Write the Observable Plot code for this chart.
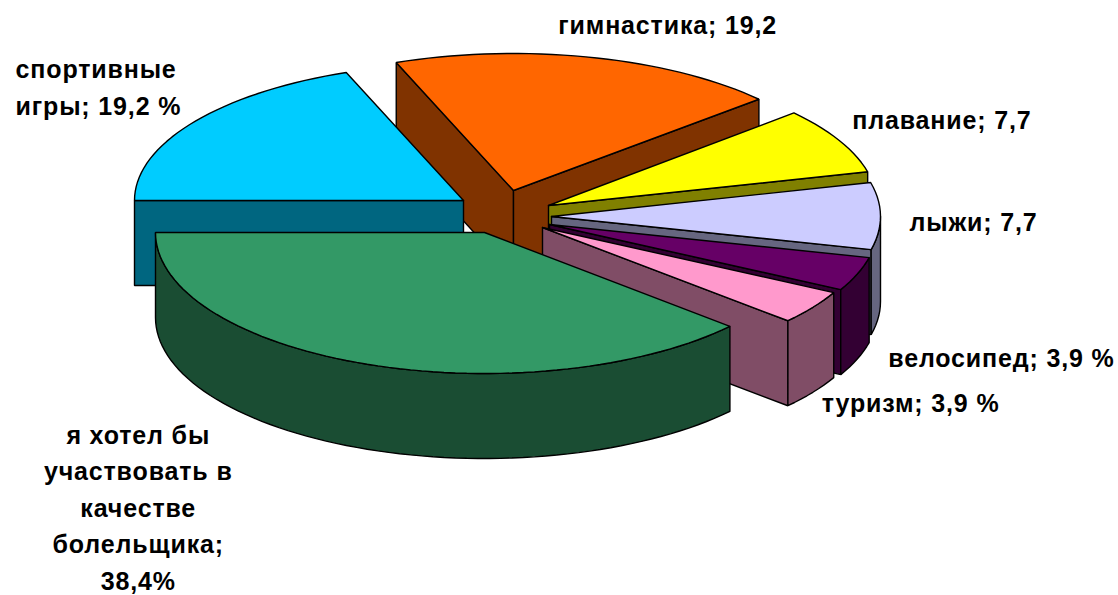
<!DOCTYPE html>
<html><head><meta charset="utf-8">
<script src="https://cdn.jsdelivr.net/npm/d3@7"></script>
<script src="https://cdn.jsdelivr.net/npm/@observablehq/plot@0.6"></script>
<style>html,body{margin:0;padding:0;background:#fff}svg{display:block}svg text{letter-spacing:.85px}</style>
</head><body><div id="chart"></div>
<script>
// Data, in drawing order round the pie (clockwise from the left)
const categories = ["спортивные\nигры; 19,2 %", "гимнастика; 19,2", "плавание; 7,7", "лыжи; 7,7", "велосипед; 3,9 %", "туризм; 3,9 %", "я хотел бы\nучаствовать в\nкачестве\nболельщика;\n38,4%"];
const values = [19.2, 19.2, 7.7, 7.7, 3.9, 3.9, 38.4];
const topColors = ["#00CCFF", "#FF6600", "#FFFF00", "#CCCCFF", "#660066", "#FF99CC", "#339966"];
const wallColors = ["#006680", "#803300", "#808000", "#666680", "#330033", "#804D66", "#1A4D33"];

// Layout of the exploded pie
const startAngle = 180, rx = 329, depth = 85;
const radiusY = [137, 137, 139, 140, 140, 140, 141];
const apexX = [463, 513, 548, 551, 549, 542, 484];
const apexY = [200, 190, 205, 216, 224, 227, 232];
const labelDx = [-177, -33, 13, 29, 31, 9, -229];
const labelDy = [-38, -35, -23, 3, 81, 93, 141];
const labelAnchor = ["start", "start", "start", "start", "start", "start", "middle"];
const paintOrder = [1, 2, 3, 4, 5, 0, 6];

const rad = Math.PI / 180;
let acc = startAngle;
const slices = values.map((v, i) => {
  const a0 = acc; acc += v * 3.6;
  return {i, a0, a1: acc, cx: apexX[i], cy: apexY[i], ry: radiusY[i]};
});
const rim = (s, t, dz = 0) => ({x: s.cx + rx * Math.cos(t * rad), y: s.cy + s.ry * Math.sin(t * rad) + dz});
const arc = (s, a, b, dz = 0) => {
  const n = Math.max(2, Math.ceil((b - a) / 2));
  return d3.range(n + 1).map(k => rim(s, a + (b - a) * k / n, dz));
};
const poly = (points, fill) => Plot.line([...points, points[0]], {x: "x", y: "y", fill, stroke: "#000", strokeWidth: 1.4, strokeLinejoin: "miter"});

const marks = [];
for (const idx of paintOrder) {
  const s = slices[idx], apex = {x: s.cx, y: s.cy}, wall = wallColors[idx];
  const cut = (t) => {
    const p = rim(s, t);
    return [apex, p, {x: p.x, y: p.y + depth}, {x: apex.x, y: apex.y + depth}];
  };
  // cut faces that turn towards the viewer
  if (Math.cos(s.a0 * rad) < 0) marks.push(poly(cut(s.a0), wall));
  if (Math.cos(s.a1 * rad) > 0) marks.push(poly(cut(s.a1), wall));
  // outer wall, front half of the ellipse only
  for (const [lo, hi] of [[0, 180], [360, 540]]) {
    const a = Math.max(s.a0, lo), b = Math.min(s.a1, hi);
    if (b > a) marks.push(poly([...arc(s, a, b), ...arc(s, a, b, depth).reverse()], wall));
  }
  // top face
  marks.push(poly([apex, ...arc(s, s.a0, s.a1)], topColors[idx]));
}
slices.forEach((s, i) => {
  const mid = rim(s, (s.a0 + s.a1) / 2);
  marks.push(Plot.text([categories[i]], {
    x: () => mid.x + labelDx[i], y: () => mid.y + labelDy[i], text: d => d,
    textAnchor: labelAnchor[i], lineHeight: 1.46,
    fontFamily: "Liberation Sans, Arial, sans-serif", fontWeight: "bold", fontSize: 25, fill: "#000"
  }));
});

document.getElementById("chart").append(Plot.plot({
  width: 1118, height: 595, margin: 0,
  x: {domain: [0, 1118], range: [0, 1118], axis: null},
  y: {domain: [0, 595], range: [0, 595], axis: null},
  style: {background: "#fff"},
  marks
}));
</script></body></html>
